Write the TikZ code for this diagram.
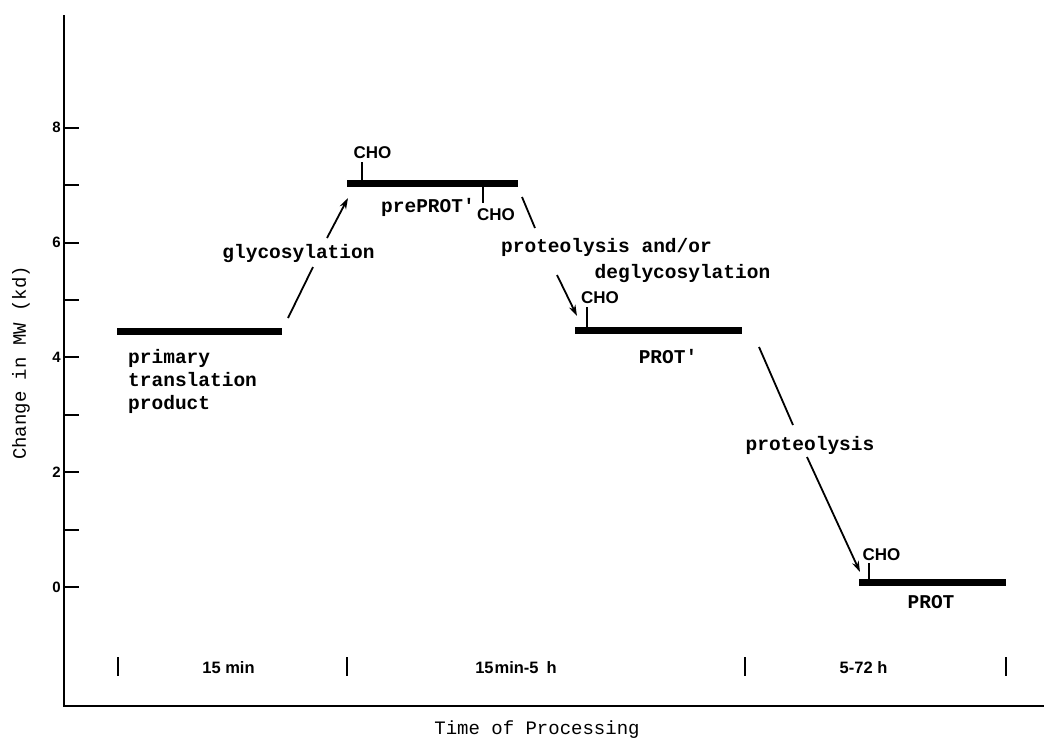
\documentclass[tikz,border=0pt]{standalone}
\usepackage{fontspec}
\setmainfont{Liberation Serif}
\newfontfamily\twfont{Liberation Mono}
\newfontfamily\ssfont{Liberation Sans}
\usetikzlibrary{arrows.meta}
\begin{document}
\begin{tikzpicture}[x=1pt,y=-1pt,
  barline/.style={line width=7pt},
  axisline/.style={line width=2.6pt},
  conn/.style={line width=1.8pt},
  arr/.style={conn,-{Stealth[length=11pt,width=7pt]}},
  stem/.style={line width=1.4pt},
  tickmark/.style={line width=2pt},
  lbl/.style={font=\twfont\bfseries\fontsize{19.5}{23}\selectfont, inner sep=0pt, anchor=base},
  ylbl/.style={font=\twfont\fontsize{19}{22}\selectfont, inner sep=0pt, rotate=90},
  cho/.style={font=\ssfont\bfseries\fontsize{17}{19}\selectfont, inner sep=0pt, anchor=base},
  num/.style={font=\ssfont\bfseries\fontsize{15}{17}\selectfont, inner sep=0pt, anchor=east},
  tlbl/.style={font=\ssfont\bfseries\fontsize{16.5}{18}\selectfont, inner sep=0pt, anchor=base}]
\useasboundingbox (0,0) rectangle (1044,740);
\fill[white] (0,0) rectangle (1044,740);

% axes
\coordinate (ytop) at (64,15);
\coordinate (orig) at (64,706);
\coordinate (xend) at (1044,706);
\draw[axisline] (ytop) -- (orig) -- (xend);

% y ticks
\foreach \v in {0,...,8} {
  \pgfmathsetmacro{\yy}{587-57.4*\v}
  \draw[tickmark] (64,\yy) -- (79,\yy);
}
\foreach \v in {0,2,4,6,8} {
  \pgfmathsetmacro{\yy}{587-57.4*\v}
  \node[num] (n\v) at (61,\yy) {\v};
}
\node[ylbl] (ylab) at (21,363) {Change in MW (kd)};

% bars
\coordinate (b1a) at (117,331); \coordinate (b1b) at (282,331);
\coordinate (b2a) at (347,183); \coordinate (b2b) at (518,183);
\coordinate (b3a) at (575,330); \coordinate (b3b) at (742,330);
\coordinate (b4a) at (859,582); \coordinate (b4b) at (1006,582);
\draw[barline] (b1a) -- (b1b);
\draw[barline] (b2a) -- (b2b);
\draw[barline] (b3a) -- (b3b);
\draw[barline] (b4a) -- (b4b);

% labels under/above bars
\node[lbl, anchor=base west] (prim1) at (128,363) {primary};
\node[lbl, anchor=base west] (prim2) at (128,386) {translation};
\node[lbl, anchor=base west] (prim3) at (128,409) {product};
\node[lbl] (preprot) at (428,212) {prePROT'};
\node[lbl] (protp) at (668,363) {PROT'};
\node[lbl] (prot) at (931,608) {PROT};

% CHO groups
\node[cho] (cho1) at (372.5,158) {CHO};
\draw[stem] (362,162) -- (362,180);
\node[cho] (cho2) at (496,220) {CHO};
\draw[stem] (483,186) -- (483,203);
\node[cho] (cho3) at (600,303) {CHO};
\draw[stem] (587,307) -- (587,327);
\node[cho] (cho4) at (881.5,560) {CHO};
\draw[stem] (869,563) -- (869,579);

% process labels
\node[lbl] (glyc) at (298.5,258) {glycosylation};
\node[lbl] (prot1) at (606.5,252) {proteolysis and/or};
\node[lbl] (degl) at (682.5,278) {deglycosylation};
\node[lbl] (prot2) at (810,450) {proteolysis};

% arrows (broken by labels)
\coordinate (g1) at (288,318); \coordinate (g2) at (313,267);
\coordinate (g3) at (327,238); \coordinate (g4) at (348,198);
\draw[conn] (g1) -- (g2);
\draw[arr] (g3) -- (g4);

\coordinate (p1) at (522,197); \coordinate (p2) at (535,228);
\coordinate (p3) at (557,275); \coordinate (p4) at (577,316);
\draw[conn] (p1) -- (p2);
\draw[arr] (p3) -- (p4);

\coordinate (q1) at (759,347); \coordinate (q2) at (793,425);
\coordinate (q3) at (807,457); \coordinate (q4) at (860,572);
\draw[conn] (q1) -- (q2);
\draw[arr] (q3) -- (q4);

% time axis markers
\foreach \x/\nm in {118/t1,347/t2,745/t3,1006/t4} {
  \coordinate (\nm a) at (\x,657);
  \coordinate (\nm b) at (\x,676);
  \draw[tickmark] (\nm a) -- (\nm b);
}
\node[tlbl] (tr1) at (228.5,673) {15 min};
\node[tlbl] (tr2) at (516,673) {15{\kern1pt}min-5\hspace{8pt}h};
\node[tlbl] (tr3) at (863.5,673) {5-72 h};

\node[lbl, font=\twfont\fontsize{19}{22}\selectfont] (xlab) at (537,734) {Time of Processing};
\end{tikzpicture}
\end{document}
